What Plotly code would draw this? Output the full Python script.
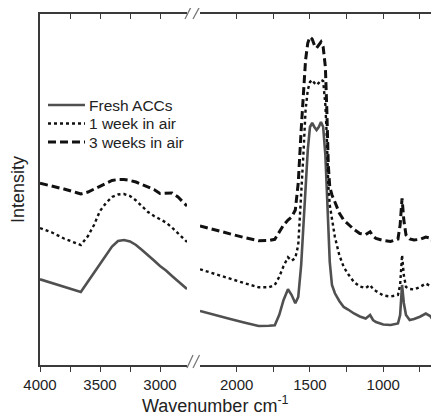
import plotly.graph_objects as go

# ---------------- data ----------------
series_names = ["Fresh ACCs", "1 week in air", "3 weeks in air"]

# high-wavenumber panel (cm-1)
wn_high = [4000, 3900, 3800, 3700, 3660, 3600, 3550, 3500, 3450, 3400, 3350, 3300,
           3250, 3200, 3150, 3100, 3050, 3000, 2950, 2900, 2850, 2800, 2775]
fresh_high = [85.7, 82, 78.5, 75, 73, 83.5, 92, 101, 110, 118.5, 124, 125,
              123.5, 120, 115, 110, 104.5, 99, 94.5, 89, 84, 79, 76]
week1_high = [137, 132.5, 126.5, 122, 120, 129, 140, 154, 162, 168, 170.5, 171,
              169, 164.5, 158.5, 153, 149, 146, 142.5, 137.5, 132, 126, 123]
week3_high = [181.7, 179, 176, 172.5, 171, 173, 176, 179, 182, 184.5, 185.5, 185.5,
              184.5, 183, 180.5, 178, 175.5, 171.5, 171.5, 172, 168, 162, 159]

# low-wavenumber panel (cm-1)
wn_low = [2250, 2150, 2050, 1950, 1850, 1780, 1740, 1710, 1680, 1650, 1625, 1600,
          1580, 1560, 1545, 1530, 1515, 1500, 1485, 1470, 1455, 1440, 1425, 1410,
          1395, 1385, 1375, 1365, 1350, 1330, 1300, 1270, 1240, 1200, 1160, 1120,
          1090, 1070, 1050, 1000, 950, 900, 885, 872, 860, 845, 820, 790, 750,
          710, 680, 660, 640, 620]
fresh_low = [54, 50.5, 46.3, 42.6, 39, 39.3, 39.7, 50, 65, 75.7, 70, 61.7,
             68, 100, 140, 170, 215, 238, 242, 238, 235, 238, 243, 238,
             210, 175, 140, 103, 80, 71.7, 64, 58, 55.5, 51.5, 48.5, 46.5,
             50, 45, 43, 40.5, 40, 41.5, 50, 80, 62, 50, 45, 46, 48.3,
             51.5, 49, 45, 40, 35]
week1_low = [95.7, 91, 86.5, 82, 77.7, 77.7, 80, 88, 99, 107.7, 104.3, 107,
             120, 165, 210, 255, 275, 283, 285, 282, 280, 282, 285, 284,
             260, 228, 180, 160, 145, 128, 110, 98, 91, 83, 78.5, 77,
             80, 76, 74, 69.5, 68.5, 70, 80, 110, 90, 78, 76, 75.5, 78,
             81.5, 79, 76.7, 74, 71.7]
week3_low = [139, 135, 131.5, 127.5, 124.3, 124.5, 125.7, 133, 140, 145, 148, 155,
             182, 235, 275, 305, 322, 328, 326, 320, 317, 320, 323, 318,
             298, 255, 200, 178, 170, 163, 152, 145, 140.5, 135.5, 131.5, 130.5,
             133.3, 129, 126.5, 124.5, 123.5, 126, 140, 166.7, 145, 130, 126, 125, 125.7,
             128, 127, 123.3, 121, 118.3]

high_ticks = [4000, 3500, 3000]
high_minor = [3750, 3250]
low_ticks = [2000, 1500, 1000]
low_minor = [1750, 1250, 750]

# ---------------- styling ----------------
# the page body has an 8px margin, so the figure is sized/placed to compensate
OX, OY = 8, 8
W, H = 439 - OX, 418 - OY
ML, MR, MT = 40 - OX, 0, 14 - OY
PH = 351
MB = H - MT - PH
PW = W - ML - MR
FONT = "Arial, 'Liberation Sans', sans-serif"
AXC = "#3a3a3a"

styles = [
    dict(color="#505050", width=2.6, dash="solid"),
    dict(color="#111111", width=2.4, dash="dot"),
    dict(color="#111111", width=3, dash="8px,4px"),
]

# screenshot pixel -> paper fraction
def px2x(p):
    return (p - OX - ML) / PW

def py2y(p):
    return (OY + MT + PH - p) / PH

dom_high = [0, px2x(187)]
dom_low = [px2x(200), 1]

fig = go.Figure()
highs = [fresh_high, week1_high, week3_high]
lows = [fresh_low, week1_low, week3_low]
for i, name in enumerate(series_names):
    fig.add_trace(go.Scatter(x=wn_high, y=highs[i], mode="lines", name=name,
                             line=styles[i], xaxis="x", yaxis="y",
                             legendgroup=name, showlegend=False))
    fig.add_trace(go.Scatter(x=wn_low, y=lows[i], mode="lines", name=name,
                             line=styles[i], xaxis="x2", yaxis="y2",
                             legendgroup=name, showlegend=False))

# invisible carriers so the mirrored top axes get drawn
fig.add_trace(go.Scatter(x=wn_high, y=fresh_high, mode="lines", opacity=0,
                         line=dict(width=0), xaxis="x3", yaxis="y",
                         showlegend=False, hoverinfo="skip"))
fig.add_trace(go.Scatter(x=wn_low, y=fresh_low, mode="lines", opacity=0,
                         line=dict(width=0), xaxis="x4", yaxis="y2",
                         showlegend=False, hoverinfo="skip"))

common_x = dict(showline=True, linecolor=AXC, linewidth=1.5, showgrid=False,
                zeroline=False, ticks="outside", ticklen=5, tickwidth=1.3,
                tickcolor=AXC, tickfont=dict(family=FONT, size=15, color="#222"))

top_x = dict(showline=True, linecolor=AXC, linewidth=1.5, showgrid=False,
             zeroline=False, ticks="inside", ticklen=5, tickwidth=1.3,
             tickcolor=AXC, showticklabels=False, side="top")

fig.update_layout(
    width=W, height=H,
    margin=dict(l=ML, r=MR, t=MT, b=MB, autoexpand=False),
    paper_bgcolor="white", plot_bgcolor="white",
    font=dict(family=FONT, color="#222"),
    xaxis=dict(domain=dom_high, range=[4000, 2775], anchor="y",
               tickvals=high_ticks,
               minor=dict(tickvals=high_minor, ticks="outside", ticklen=5,
                          tickwidth=1.3, tickcolor=AXC),
               **common_x),
    xaxis2=dict(domain=dom_low, range=[2250, 620], anchor="y2",
                tickvals=low_ticks,
                minor=dict(tickvals=low_minor, ticks="outside", ticklen=5,
                           tickwidth=1.3, tickcolor=AXC),
                **common_x),
    xaxis3=dict(overlaying="x", anchor="y", range=[4000, 2775],
                tickvals=high_ticks + high_minor, **top_x),
    xaxis4=dict(overlaying="x2", anchor="y2", range=[2250, 620],
                tickvals=low_ticks + low_minor, **top_x),
    yaxis=dict(domain=[0, 1], range=[0, PH], anchor="x", showline=True,
               linecolor=AXC, linewidth=1.5, showgrid=False, zeroline=False,
               ticks="", showticklabels=False),
    yaxis2=dict(domain=[0, 1], range=[0, PH], anchor="x2", showline=False,
                showgrid=False, zeroline=False, ticks="", showticklabels=False),
    showlegend=False,
)

# legend (drawn compactly, as in the original)
legend_rows = [105, 123.5, 142]
for i, name in enumerate(series_names):
    yy = py2y(legend_rows[i])
    fig.add_shape(type="line", xref="paper", yref="paper",
                  x0=px2x(48), x1=px2x(85), y0=yy, y1=yy,
                  line=dict(color=styles[i]["color"], width=styles[i]["width"],
                            dash=styles[i]["dash"]))
    fig.add_annotation(text=name, xref="paper", yref="paper",
                       x=px2x(87), y=yy, xanchor="left", yanchor="middle",
                       showarrow=False,
                       font=dict(family=FONT, size=15.5, color="#222"))

# axis titles
fig.add_annotation(text="Wavenumber cm<sup>-1</sup>", xref="paper", yref="paper",
                   x=px2x(215), y=py2y(405), xanchor="center", yanchor="middle",
                   showarrow=False, font=dict(family=FONT, size=18, color="#222"))
fig.add_annotation(text="Intensity", xref="paper", yref="paper",
                   x=px2x(18), y=py2y(190), xanchor="center", yanchor="middle",
                   textangle=-90, showarrow=False,
                   font=dict(family=FONT, size=18, color="#222"))

# axis-break marks
brk = dict(color="#777777", width=1.3)
for (x0, y0, x1, y1) in [(187, 368, 193, 355), (193, 368, 199.5, 355),
                         (185, 19, 191, 7), (193, 19, 199.5, 7)]:
    fig.add_shape(type="line", xref="paper", yref="paper",
                  x0=px2x(x0), y0=py2y(y0), x1=px2x(x1), y1=py2y(y1), line=brk)

fig.write_html("out.html")
